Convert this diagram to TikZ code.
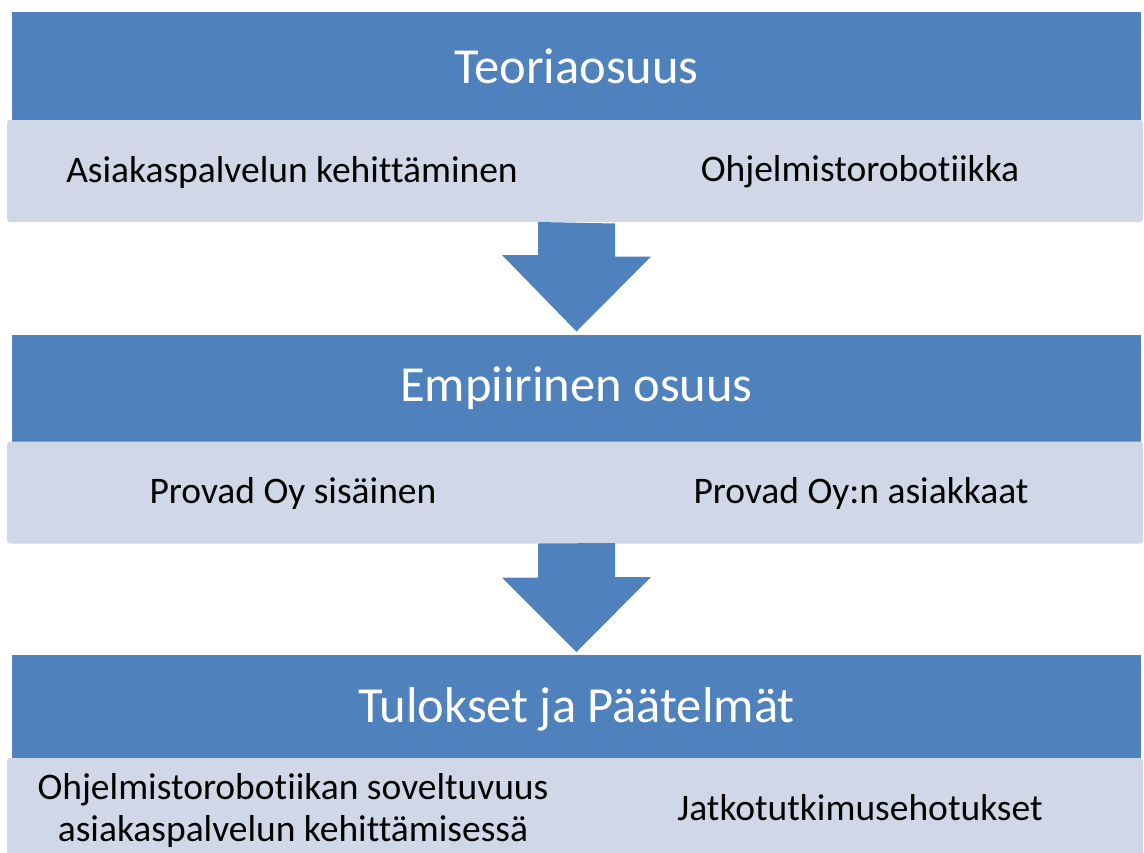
\documentclass[tikz,border=0pt]{standalone}
\usepackage{fontspec}
\setmainfont{Carlito}[Ligatures=NoCommon]
\definecolor{barblue}{HTML}{4F81BD}
\definecolor{bargray}{HTML}{D0D8E8}
\usepackage{tikz}
\usetikzlibrary{calc, positioning}

\begin{document}
\begin{tikzpicture}[
  x=1pt, y=-1pt,
  head/.style={fill=barblue, text=white, minimum width=1129pt, minimum height=108pt,
    inner sep=0pt, outer sep=0pt, font=\fontsize{50.5}{60}\selectfont},
  subbar/.style={fill=bargray, rounded corners=3pt, minimum width=1136pt,
    minimum height=102pt, inner sep=0pt, outer sep=0pt},
  subtext/.style={font=\fontsize{37.5}{42}\selectfont, align=center, inner sep=0pt},
  flow/.style={fill=barblue},
]
\useasboundingbox (0,0) rectangle (1144,852);

% Teoriaosuus
\node[head] (teoria) at (576.5,66) {Teoriaosuus};
\node[subbar] (teoriaSub) at (575,171) {};
\node[subtext] (kehitys) at (292,172) {Asiakaspalvelun kehittäminen};
\node[subtext] (robotiikka) at (860,172) {Ohjelmistorobotiikka};

% Empiirinen osuus
\node[head] (empiria) at (576.5,388.5) {Empiirinen osuus};
\node[subbar] (empiriaSub) at (575,492.5) {};
\node[subtext] (sisainen) at (293,493) {Provad Oy sisäinen};
\node[subtext] (asiakkaat) at (861,493) {Provad Oy:n asiakkaat};

% Tulokset
\node[head] (tulokset) at (576.5,709) {Tulokset ja Päätelmät};
\node[subbar] (tuloksetSub) at (575,809) {};
\node[subtext] (soveltuvuus) at (293,810) {Ohjelmistorobotiikan soveltuvuus\\asiakaspalvelun kehittämisessä};
\node[subtext] (jatko) at (860,808) {Jatkotutkimusehotukset};

% Arrows
\fill[flow] ($(teoria |- teoriaSub.south)+(-38.5,0)$) -- ++(0,33) -- ++(-36,0)
  -- ($(empiria.north)+(0,-3)$) -- ++(74.5,-75) -- ++(-36,0) -- ++(0,-33) -- cycle;
\fill[flow] ($(empiria |- empiriaSub.south)+(-38.5,0)$) -- ++(0,34) -- ++(-36,0)
  -- ($(tulokset.north)+(0,-3)$) -- ++(74.5,-75) -- ++(-36,0) -- ++(0,-34) -- cycle;
\end{tikzpicture}
\end{document}
